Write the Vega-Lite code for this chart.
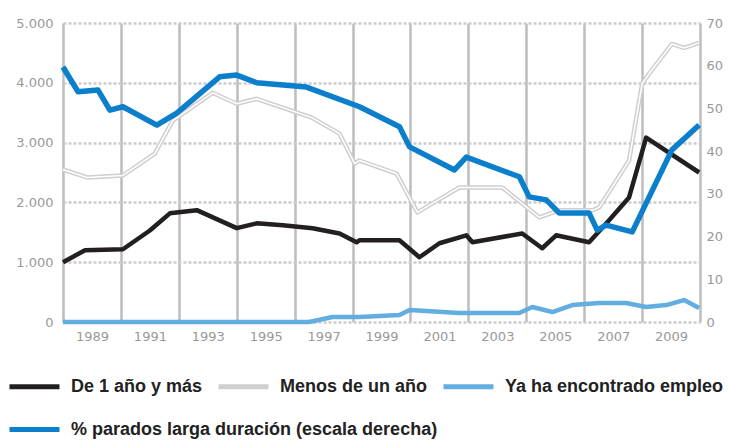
{
  "$schema": "https://vega.github.io/schema/vega-lite/v6.json",
  "width": 637,
  "height": 299,
  "autosize": {"type": "none"},
  "padding": {"left": 63, "top": 23, "right": 32, "bottom": 118},
  "background": "white",
  "config": {
    "view": {"stroke": null},
    "font": "DejaVu Sans, sans-serif",
    "legend": {
      "title": null,
      "orient": "none",
      "direction": "horizontal",
      "symbolType": "stroke",
      "symbolStrokeWidth": 5,
      "symbolSize": 2500,
      "labelFont": "Liberation Sans, Arial, sans-serif",
      "labelFontSize": 18,
      "labelFontWeight": "bold",
      "labelColor": "#222222",
      "labelLimit": 600,
      "labelOffset": 9,
      "columnPadding": 5
    }
  },
  "datasets": {
    "left": [
      {"year": 1988.0, "serie": "De 1 año y más", "value": 1000},
      {"year": 1988.76, "serie": "De 1 año y más", "value": 1200},
      {"year": 1990.07, "serie": "De 1 año y más", "value": 1217},
      {"year": 1991.0, "serie": "De 1 año y más", "value": 1530},
      {"year": 1991.69, "serie": "De 1 año y más", "value": 1817},
      {"year": 1992.62, "serie": "De 1 año y más", "value": 1870},
      {"year": 1994.0, "serie": "De 1 año y más", "value": 1570},
      {"year": 1994.69, "serie": "De 1 año y más", "value": 1650},
      {"year": 1995.59, "serie": "De 1 año y más", "value": 1617},
      {"year": 1996.62, "serie": "De 1 año y más", "value": 1567},
      {"year": 1997.55, "serie": "De 1 año y más", "value": 1480},
      {"year": 1998.14, "serie": "De 1 año y más", "value": 1333},
      {"year": 1998.24, "serie": "De 1 año y más", "value": 1367},
      {"year": 1999.62, "serie": "De 1 año y más", "value": 1367},
      {"year": 2000.31, "serie": "De 1 año y más", "value": 1083},
      {"year": 2001.0, "serie": "De 1 año y más", "value": 1317},
      {"year": 2001.93, "serie": "De 1 año y más", "value": 1450},
      {"year": 2002.14, "serie": "De 1 año y más", "value": 1333},
      {"year": 2003.86, "serie": "De 1 año y más", "value": 1480},
      {"year": 2004.55, "serie": "De 1 año y más", "value": 1233},
      {"year": 2005.03, "serie": "De 1 año y más", "value": 1450},
      {"year": 2006.17, "serie": "De 1 año y más", "value": 1333},
      {"year": 2006.86, "serie": "De 1 año y más", "value": 1700},
      {"year": 2007.55, "serie": "De 1 año y más", "value": 2083},
      {"year": 2008.14, "serie": "De 1 año y más", "value": 3083},
      {"year": 2009.97, "serie": "De 1 año y más", "value": 2500},
      {"year": 1988.0, "serie": "Menos de un año", "value": 2550},
      {"year": 1988.83, "serie": "Menos de un año", "value": 2417},
      {"year": 1990.07, "serie": "Menos de un año", "value": 2450},
      {"year": 1991.17, "serie": "Menos de un año", "value": 2817},
      {"year": 1991.79, "serie": "Menos de un año", "value": 3367},
      {"year": 1993.17, "serie": "Menos de un año", "value": 3833},
      {"year": 1994.0, "serie": "Menos de un año", "value": 3650},
      {"year": 1994.69, "serie": "Menos de un año", "value": 3733},
      {"year": 1996.59, "serie": "Menos de un año", "value": 3417},
      {"year": 1997.55, "serie": "Menos de un año", "value": 3150},
      {"year": 1998.07, "serie": "Menos de un año", "value": 2650},
      {"year": 1998.24, "serie": "Menos de un año", "value": 2700},
      {"year": 1999.52, "serie": "Menos de un año", "value": 2483},
      {"year": 2000.24, "serie": "Menos de un año", "value": 1833},
      {"year": 2001.69, "serie": "Menos de un año", "value": 2250},
      {"year": 2003.17, "serie": "Menos de un año", "value": 2250},
      {"year": 2004.45, "serie": "Menos de un año", "value": 1750},
      {"year": 2005.14, "serie": "Menos de un año", "value": 1867},
      {"year": 2006.28, "serie": "Menos de un año", "value": 1867},
      {"year": 2006.52, "serie": "Menos de un año", "value": 1917},
      {"year": 2007.55, "serie": "Menos de un año", "value": 2700},
      {"year": 2008.0, "serie": "Menos de un año", "value": 3983},
      {"year": 2008.24, "serie": "Menos de un año", "value": 4150},
      {"year": 2009.03, "serie": "Menos de un año", "value": 4650},
      {"year": 2009.45, "serie": "Menos de un año", "value": 4583},
      {"year": 2009.97, "serie": "Menos de un año", "value": 4667},
      {"year": 1988.0, "serie": "Ya ha encontrado empleo", "value": 0},
      {"year": 1996.5, "serie": "Ya ha encontrado empleo", "value": 0},
      {"year": 1997.31, "serie": "Ya ha encontrado empleo", "value": 83},
      {"year": 1998.24, "serie": "Ya ha encontrado empleo", "value": 83},
      {"year": 1999.62, "serie": "Ya ha encontrado empleo", "value": 117},
      {"year": 1999.97, "serie": "Ya ha encontrado empleo", "value": 200},
      {"year": 2001.69, "serie": "Ya ha encontrado empleo", "value": 150},
      {"year": 2003.76, "serie": "Ya ha encontrado empleo", "value": 150},
      {"year": 2004.21, "serie": "Ya ha encontrado empleo", "value": 250},
      {"year": 2004.9, "serie": "Ya ha encontrado empleo", "value": 167},
      {"year": 2005.59, "serie": "Ya ha encontrado empleo", "value": 283},
      {"year": 2006.52, "serie": "Ya ha encontrado empleo", "value": 317},
      {"year": 2007.45, "serie": "Ya ha encontrado empleo", "value": 317},
      {"year": 2008.14, "serie": "Ya ha encontrado empleo", "value": 250},
      {"year": 2008.83, "serie": "Ya ha encontrado empleo", "value": 283},
      {"year": 2009.45, "serie": "Ya ha encontrado empleo", "value": 367},
      {"year": 2009.97, "serie": "Ya ha encontrado empleo", "value": 233}
    ],
    "right": [
      {"year": 1988.0, "serie": "% parados larga duración (escala derecha)", "value": 59.7},
      {"year": 1988.52, "serie": "% parados larga duración (escala derecha)", "value": 53.9},
      {"year": 1989.21, "serie": "% parados larga duración (escala derecha)", "value": 54.3},
      {"year": 1989.62, "serie": "% parados larga duración (escala derecha)", "value": 49.6},
      {"year": 1990.07, "serie": "% parados larga duración (escala derecha)", "value": 50.4},
      {"year": 1991.24, "serie": "% parados larga duración (escala derecha)", "value": 46.1},
      {"year": 1991.93, "serie": "% parados larga duración (escala derecha)", "value": 48.9},
      {"year": 1993.41, "serie": "% parados larga duración (escala derecha)", "value": 57.4},
      {"year": 1994.0, "serie": "% parados larga duración (escala derecha)", "value": 57.8},
      {"year": 1994.69, "serie": "% parados larga duración (escala derecha)", "value": 56.0},
      {"year": 1996.41, "serie": "% parados larga duración (escala derecha)", "value": 55.0},
      {"year": 1998.24, "serie": "% parados larga duración (escala derecha)", "value": 50.4},
      {"year": 1999.62, "serie": "% parados larga duración (escala derecha)", "value": 45.7},
      {"year": 1999.97, "serie": "% parados larga duración (escala derecha)", "value": 41.0},
      {"year": 2001.52, "serie": "% parados larga duración (escala derecha)", "value": 35.6},
      {"year": 2001.93, "serie": "% parados larga duración (escala derecha)", "value": 38.6},
      {"year": 2003.76, "serie": "% parados larga duración (escala derecha)", "value": 34.0},
      {"year": 2004.1, "serie": "% parados larga duración (escala derecha)", "value": 29.3},
      {"year": 2004.69, "serie": "% parados larga duración (escala derecha)", "value": 28.6},
      {"year": 2005.14, "serie": "% parados larga duración (escala derecha)", "value": 25.5},
      {"year": 2006.17, "serie": "% parados larga duración (escala derecha)", "value": 25.5},
      {"year": 2006.45, "serie": "% parados larga duración (escala derecha)", "value": 21.5},
      {"year": 2006.76, "serie": "% parados larga duración (escala derecha)", "value": 22.7},
      {"year": 2007.66, "serie": "% parados larga duración (escala derecha)", "value": 21.1},
      {"year": 2009.03, "serie": "% parados larga duración (escala derecha)", "value": 40.3},
      {"year": 2009.97, "serie": "% parados larga duración (escala derecha)", "value": 46.1}
    ]
  },
  "layer": [
    {
      "data": {"name": "left"},
      "mark": {"type": "line", "strokeWidth": 4.5, "strokeJoin": "round"},
      "encoding": {
        "x": {
          "field": "year", "type": "quantitative",
          "scale": {"domain": [1988, 2010], "nice": false, "zero": false},
          "axis": {
            "title": null,
            "values": [1988, 1990, 1992, 1994, 1996, 1998, 2000, 2002, 2004, 2006, 2008, 2010],
            "labelExpr": "datum.value < 2010 ? '' + (datum.value + 1) : ''",
            "labelOffset": 29,
            "labelFlush": false,
            "labelBound": false,
            "labelOverlap": false,
            "labelPadding": 8,
            "labelColor": "#999999",
            "labelFontSize": 13,
            "ticks": false,
            "domain": false,
            "grid": true,
            "gridColor": "#bdbdbd",
            "gridWidth": 2.5,
            "gridOpacity": 1
          }
        },
        "y": {
          "field": "value", "type": "quantitative",
          "scale": {"domain": [0, 5000], "nice": false},
          "axis": {
            "title": null,
            "values": [0, 1000, 2000, 3000, 4000, 5000],
            "labelExpr": "replace(format(datum.value, ','), ',', '.')",
            "labelColor": "#999999",
            "labelFontSize": 13,
            "labelPadding": 10,
            "ticks": false,
            "domain": false,
            "grid": true,
            "gridColor": "#cccccc",
            "gridWidth": 2.5,
            "gridDash": [3, 2],
            "gridOpacity": 1
          }
        },
        "color": {
          "field": "serie", "type": "nominal",
          "scale": {
            "domain": ["De 1 año y más", "Menos de un año", "Ya ha encontrado empleo"],
            "range": ["#231f20", "#cfcfcf", "#62aee0"]
          },
          "legend": {"legendX": -56, "legendY": 336}
        }
      }
    },
    {
      "data": {"name": "left"},
      "transform": [{"filter": "datum.serie === 'Menos de un año'"}],
      "mark": {"type": "line", "strokeWidth": 1.5, "color": "#ffffff", "strokeJoin": "round"},
      "encoding": {
        "x": {"field": "year", "type": "quantitative"},
        "y": {"field": "value", "type": "quantitative", "scale": {"domain": [0, 5000], "nice": false}, "axis": null}
      }
    },
    {
      "data": {"name": "right"},
      "mark": {"type": "line", "strokeWidth": 5.5, "strokeJoin": "round"},
      "encoding": {
        "x": {"field": "year", "type": "quantitative"},
        "y": {
          "field": "value", "type": "quantitative",
          "scale": {"domain": [0, 70], "nice": false},
          "axis": {
            "title": null,
            "orient": "right",
            "values": [0, 10, 20, 30, 40, 50, 60, 70],
            "labelColor": "#999999",
            "labelFontSize": 13,
            "labelPadding": 6,
            "ticks": false,
            "domain": false,
            "grid": false
          }
        },
        "color": {
          "field": "serie", "type": "nominal",
          "scale": {"domain": ["% parados larga duración (escala derecha)"], "range": ["#0b7fcc"]},
          "legend": {"legendX": -56, "legendY": 379}
        }
      }
    }
  ],
  "resolve": {"scale": {"y": "independent", "color": "independent"}}
}
